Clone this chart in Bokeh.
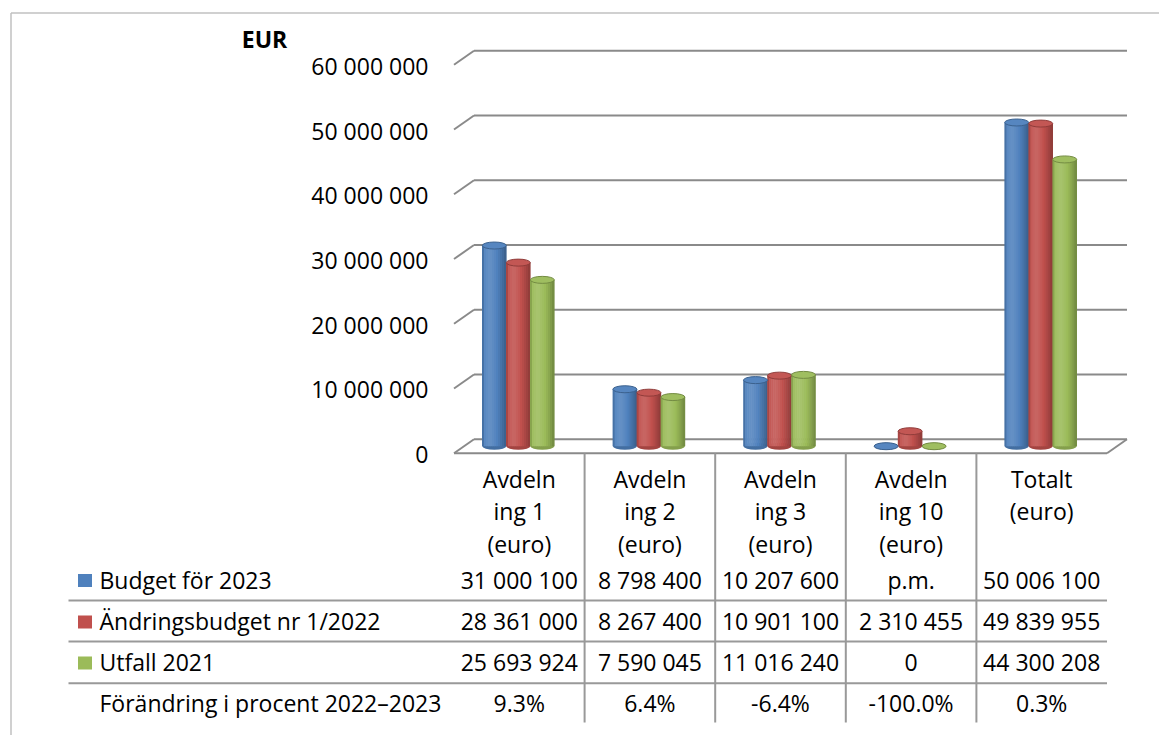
import numpy as np
from bokeh.plotting import figure
from bokeh.models import Range1d, ColumnDataSource
from bokeh.core.properties import value
from bokeh.embed import file_html
from bokeh.resources import INLINE

# ---------------- data ----------------
categories = [["Avdeln", "ing 1", "(euro)"],
              ["Avdeln", "ing 2", "(euro)"],
              ["Avdeln", "ing 3", "(euro)"],
              ["Avdeln", "ing 10", "(euro)"],
              ["Totalt", "(euro)"]]
series_names = ["Budget för 2023", "Ändringsbudget nr 1/2022", "Utfall 2021"]
budget_2023 = [31000100, 8798400, 10207600, None, 50006100]   # None = p.m.
andringsbudget_2022 = [28361000, 8267400, 10901100, 2310455, 49839955]
utfall_2021 = [25693924, 7590045, 11016240, 0, 44300208]
pct_row_label = "Förändring i procent 2022–2023"
pct_change = [9.3, 6.4, -6.4, -100.0, 0.3]
y_ticks = [0, 10000000, 20000000, 30000000, 40000000, 50000000, 60000000]
axis_title = "EUR"
series_colors = ["#4f81bd", "#c0504d", "#9bbb59"]

series = [budget_2023, andringsbudget_2022, utfall_2021]

# ---------------- layout / style ----------------
W, H = 1159, 735
M = 0
TOP, BOT = M, M + H
X_LEFT, CAT_W = 453.5, 130.6
NCAT = len(categories)
X_RIGHT = X_LEFT + NCAT * CAT_W
DX, DY = 20, 14
Y0 = 452.7
K = 388.4 / 60e6
FONT = value("Open Sans")
FS = "23px"
GRID = "#8a8a8a"
TLINE = "#999999"


def vrange(y0):
    return Range1d(start=(y0 - BOT) / K, end=(y0 - TOP) / K)


def hex2rgb(h):
    h = h.lstrip("#")
    return np.array([int(h[i:i + 2], 16) for i in (0, 2, 4)], dtype=float)


def rgb2hex(c):
    c = np.clip(np.round(c), 0, 255).astype(int)
    return "#%02x%02x%02x" % tuple(c)


def shade(hexc, f):
    c = hex2rgb(hexc)
    if f >= 0:
        c = c + (255 - c) * f
    else:
        c = c * (1 + f)
    return rgb2hex(c)


def fmt(v):
    return "p.m." if v is None else f"{v:,}".replace(",", " ")


p = figure(width=W, height=H, x_range=Range1d(M, M + W), y_range=vrange(Y0),
           min_border=0, x_axis_location=None, y_axis_location=None,
           toolbar_location=None, output_backend="svg", outline_line_color=None,
           background_fill_color="white", border_fill_color="white")
p.grid.visible = False
p.xgrid.grid_line_color = None
p.ygrid.grid_line_color = None
p.extra_y_ranges = {"back": vrange(Y0 - DY), "mid": vrange(Y0 - DY / 2),
                    "px": Range1d(start=BOT, end=TOP)}

# outer chart border
p.segment(x0=[10.5, 10.5], y0=[12.5, 12.5], x1=[10.5, M + W], y1=[BOT, 12.5],
          line_color="#c0c0c0", line_width=1.5, y_range_name="px")

# back-wall gridlines and left-side diagonals
n = len(y_ticks)
dv = DY / K
p.segment(x0=[X_LEFT + DX] * n, y0=y_ticks, x1=[X_RIGHT + DX] * n, y1=y_ticks,
          line_color=GRID, line_width=2, y_range_name="back")
p.segment(x0=[X_LEFT] * n, y0=y_ticks, x1=[X_LEFT + DX] * n,
          y1=[t + dv for t in y_ticks], line_color=GRID, line_width=2)
# floor front and right edges
p.segment(x0=[X_LEFT, X_RIGHT], y0=[0, 0], x1=[X_RIGHT, X_RIGHT + DX], y1=[0, dv],
          line_color=GRID, line_width=2)

# y tick labels
p.text(x=[428] * n, y=y_ticks, text=[f"{t:,}".replace(",", " ") for t in y_ticks],
       text_align="right", text_baseline="middle", text_font=FONT,
       text_font_size=FS, text_color="black", y_offset=1)
p.text(x=[264], y=[38], text=[axis_title], text_align="center",
       text_baseline="middle", text_font=FONT, text_font_size="23px",
       text_font_style="bold", text_color="black", y_range_name="px")

# cylinders
CYL_W = 24
NSTRIP = 12
sw = CYL_W / NSTRIP
strip = dict(x=[], top=[], color=[])
tops = dict(x=[], y=[], fill=[], line=[])
bots = dict(x=[], y=[], fill=[])
for i in range(NCAT):
    xc = X_LEFT + (i + 0.5) * CAT_W - 1
    for j, s in enumerate(series):
        v = 0 if s[i] is None else s[i]
        cx = xc + (j - 1) * CYL_W
        base = series_colors[j]
        for k in range(NSTRIP):
            t = (k + 0.5) / NSTRIP
            f = (0.12 * np.exp(-((t - 0.32) / 0.22) ** 2)
                 - 0.28 * max(0.0, (t - 0.55) / 0.45) ** 1.5
                 - 0.22 * max(0.0, (0.12 - t) / 0.12))
            strip["x"].append(cx - CYL_W / 2 + (k + 0.5) * sw)
            strip["top"].append(v)
            strip["color"].append(shade(base, f))
        tops["x"].append(cx)
        tops["y"].append(v)
        tops["fill"].append(shade(base, 0.04))
        tops["line"].append(shade(base, -0.25))
        bots["x"].append(cx)
        bots["y"].append(0)
        bots["fill"].append(shade(base, -0.15))

p.ellipse(x="x", y="y", width=CYL_W, height=7, height_units="screen",
          fill_color="fill", line_color=None, source=ColumnDataSource(bots),
          y_range_name="mid")
p.vbar(x="x", top="top", bottom=0, width=sw + 0.6, fill_color="color",
       line_color=None, source=ColumnDataSource(strip), y_range_name="mid")
p.ellipse(x="x", y="y", width=CYL_W, height=7, height_units="screen",
          fill_color="fill", line_color="line", line_width=1,
          source=ColumnDataSource(tops), y_range_name="mid")

# ---------------- data table ----------------
header_y = [478, 510.5, 543.5]
row_y = [579, 620.5, 661.5, 702.5]
xcs = [X_LEFT + (i + 0.5) * CAT_W for i in range(NCAT)]

hx, hy, ht = [], [], []
for i, lines in enumerate(categories):
    for k, ln in enumerate(lines):
        hx.append(xcs[i]); hy.append(header_y[k]); ht.append(ln)
p.text(x=hx, y=hy, text=ht, text_align="center", text_baseline="middle",
       text_font=FONT, text_font_size=FS, text_color="black", y_range_name="px")

vx, vy, vt = [], [], []
for r, s in enumerate(series):
    for i in range(NCAT):
        vx.append(xcs[i]); vy.append(row_y[r]); vt.append(fmt(s[i]))
for i in range(NCAT):
    vx.append(xcs[i]); vy.append(row_y[3]); vt.append(f"{pct_change[i]:.1f}%")
p.text(x=vx, y=vy, text=vt, text_align="center", text_baseline="middle",
       text_font=FONT, text_font_size=FS, text_color="black", y_range_name="px")

# row labels + legend keys
p.text(x=[99] * 4, y=row_y, text=series_names + [pct_row_label], text_align="left",
       text_baseline="middle", text_font=FONT, text_font_size=FS,
       text_color="black", y_range_name="px")
p.rect(x=[84.5] * 3, y=[ry + 1 for ry in row_y[:3]], width=14, height=13,
       fill_color=series_colors, line_color=None, y_range_name="px")

# table lines
hl_y = [600, 641, 682.7]
p.segment(x0=[68] * 3, y0=hl_y, x1=[X_RIGHT] * 3, y1=hl_y, line_color=TLINE,
          line_width=2, y_range_name="px")
bx = [X_LEFT + k * CAT_W for k in range(1, NCAT)]
p.segment(x0=bx, y0=[453] * len(bx), x1=bx, y1=[722] * len(bx),
          line_color=TLINE, line_width=2, y_range_name="px")

open("out.html", "w").write(file_html(p, INLINE))
